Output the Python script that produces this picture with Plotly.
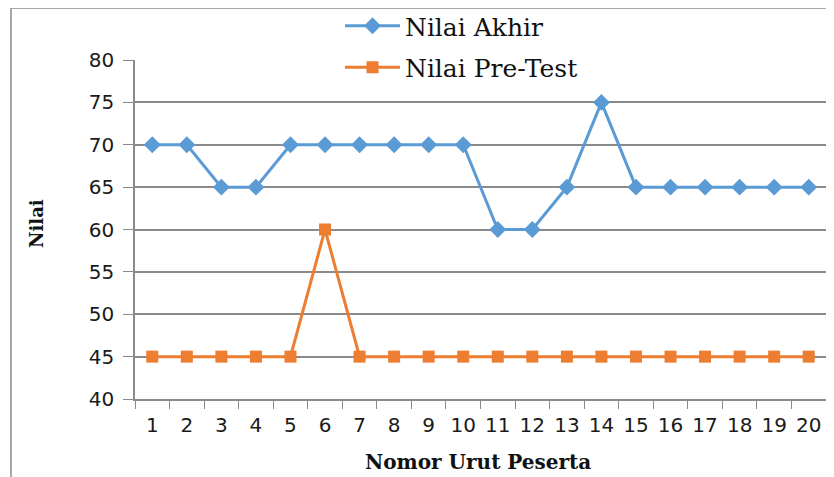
import plotly.graph_objects as go

categories = [str(i) for i in range(1, 21)]
nilai_akhir = [70, 70, 65, 65, 70, 70, 70, 70, 70, 70, 60, 60, 65, 75, 65, 65, 65, 65, 65, 65]
nilai_pretest = [45, 45, 45, 45, 45, 60, 45, 45, 45, 45, 45, 45, 45, 45, 45, 45, 45, 45, 45, 45]
y_ticks = [40, 45, 50, 55, 60, 65, 70, 75, 80]

# page offset (body margin) compensation
O = 8
W, H = 834 - O, 477 - O
L, R, T, B = 135 - O, 8, 60 - O, 78
pw, ph = W - L - R, H - T - B

def px(x):  # page pixel -> paper
    return (x - O - L) / pw

def py(y):
    return 1 - (y - O - T) / ph

fig = go.Figure()
fig.add_trace(go.Scatter(
    x=categories, y=nilai_akhir, name="Nilai Akhir", mode="lines+markers",
    line=dict(color="#5B9BD5", width=3),
    marker=dict(symbol="diamond", size=13, color="#5B9BD5"),
    legendgroup="a",
))
fig.add_trace(go.Scatter(
    x=categories, y=nilai_pretest, name="Nilai Pre-Test", mode="lines+markers",
    line=dict(color="#ED7D31", width=3),
    marker=dict(symbol="square", size=12, color="#ED7D31"),
    legendgroup="b",
))

grid = "#8a8a8a"
fig.update_layout(
    width=W, height=H,
    margin=dict(l=L, r=R, t=T, b=B, autoexpand=False),
    paper_bgcolor="white", plot_bgcolor="white",
    font=dict(family="DejaVu Sans", size=20, color="#1a1a1a"),
    showlegend=True,
    legend=dict(
        x=px(340), y=py(3), xanchor="left", yanchor="top",
        bgcolor="rgba(0,0,0,0)", traceorder="grouped", tracegroupgap=6,
        itemwidth=55,
        font=dict(family="DejaVu Serif", size=25, color="#111111"),
    ),
    xaxis=dict(
        type="category", tickson="boundaries", ticks="outside", ticklen=8,
        range=[-0.5, len(categories) - 0.5],
        tickcolor=grid, showline=True, linecolor=grid, linewidth=1.5,
        showgrid=False, tickfont=dict(size=20), tickangle=0, automargin=False,
        ticklabelstandoff=7,
    ),
    yaxis=dict(
        range=[40, 80], tickvals=y_ticks, ticks="outside", ticklen=10,
        tickcolor=grid, showline=True, linecolor=grid, linewidth=1.5,
        showgrid=True, gridcolor=grid, gridwidth=1.5, zeroline=False,
        tickfont=dict(size=20), ticklabelstandoff=5, automargin=False,
    ),
    shapes=[
        dict(type="rect", xref="paper", yref="paper", layer="above",
             x0=px(263), x1=px(665), y0=py(80), y1=py(12),
             fillcolor="white", line=dict(width=0)),
        dict(type="rect", xref="paper", yref="paper", layer="above",
             x0=px(11), x1=px(850), y0=py(500), y1=py(8),
             fillcolor="rgba(0,0,0,0)", line=dict(color="#8c8c8c", width=1.5)),
    ],
    annotations=[
        dict(text="<b>Nilai</b>", xref="paper", yref="paper", x=px(37), y=py(224),
             xanchor="center", yanchor="middle",
             showarrow=False, textangle=-90,
             font=dict(family="DejaVu Serif", size=18, color="#111111")),
        dict(text="<b>Nomor Urut Peserta</b>", xref="paper", yref="paper",
             x=px(478), y=py(462), xanchor="center", yanchor="middle", showarrow=False,
             font=dict(family="DejaVu Serif", size=20, color="#111111")),
    ],
)

fig.write_html("out.html")
